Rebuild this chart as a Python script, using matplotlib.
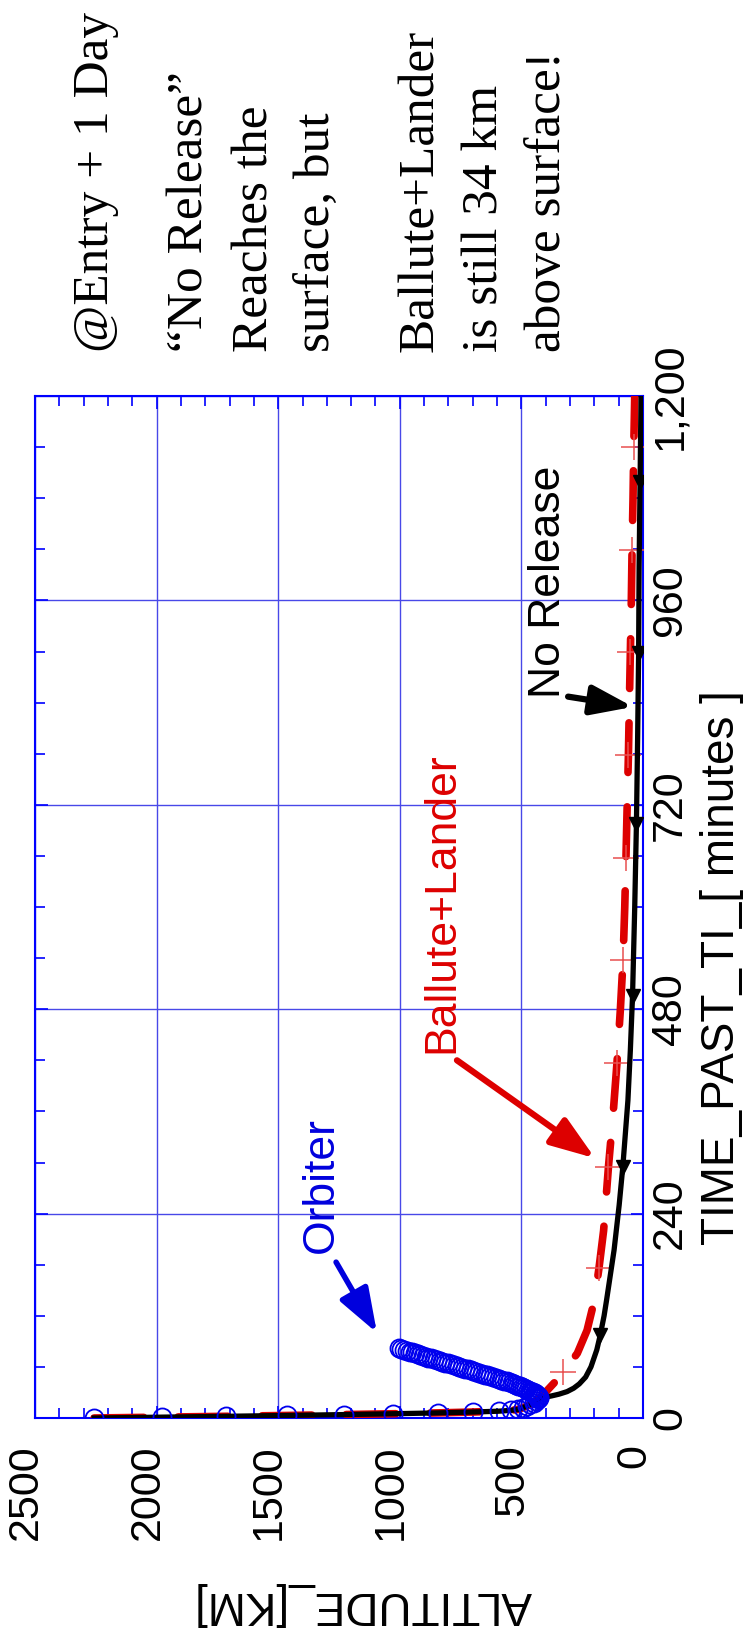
import matplotlib
matplotlib.use('Agg')
import matplotlib.pyplot as plt
from matplotlib.ticker import MultipleLocator
from matplotlib.transforms import ScaledTranslation

plt.rcParams['font.family'] = ['Liberation Sans', 'DejaVu Sans']

W, H = 748, 1650

# entry leg, all three bodies fly together until the release point
entry_time = [0, 1, 2, 3, 4, 5, 6, 7, 8, 9, 10, 12, 14, 16, 18, 20, 22]
entry_alt = [2257, 1978, 1713, 1463, 1231, 1026, 843, 700, 593, 543, 514,
             495, 478, 463, 450, 440, 432]

# orbiter climbs back out after the pass (one sample per minute)
orbiter_time = [23, 24, 25, 26, 27, 28, 29, 30, 31, 32, 33, 34, 35, 36, 37,
                38, 39, 40, 41, 42, 43, 44, 45, 46, 47, 48, 49, 50, 51, 52,
                53, 54, 55, 56, 57, 58, 59, 60, 61, 62, 63, 64, 65, 66, 67,
                68, 69, 70, 71, 72, 73, 74, 75, 76, 77, 78, 79, 80, 81, 82]
orbiter_alt = [430, 428, 429, 432, 436, 440, 446, 452, 459, 466, 474, 482,
               490, 498, 506, 515, 522, 530, 540, 550, 560, 571, 582, 594,
               605, 617, 628, 640, 651, 663, 674, 686, 697, 709, 720, 732,
               743, 755, 766, 778, 790, 802, 813, 825, 836, 848, 859, 871,
               882, 894, 905, 916, 927, 938, 949, 960, 971, 983, 994, 1005]

# ballute + lander after release
lander_time = [29, 41, 54, 76, 103, 138, 176, 220, 295, 360, 417, 480, 538,
               600, 658, 720, 778, 840, 899, 960, 1019, 1080, 1140, 1200]
lander_alt = [405, 366, 327, 270, 230, 200, 181, 162, 142, 122, 107, 93, 82,
              75, 70, 65, 60, 56, 52, 48, 45, 41, 38, 34]
lander_mark_time = [54, 176, 295, 417, 538, 658, 778, 899, 1019, 1140]

# no release case
norel_time = [24, 26, 28, 31, 35, 40, 48, 60, 80, 97, 120, 138, 197, 250,
              295, 373, 432, 496, 600, 698, 800, 898, 1000, 1099, 1200]
norel_alt = [410, 375, 345, 312, 285, 262, 236, 214, 190, 176, 160, 150, 119,
             98, 83, 62, 52, 43, 34, 27, 22, 18, 16, 12, 8]
norel_mark_time = [97, 295, 496, 698, 898, 1099]

alt_ticks = [0, 500, 1000, 1500, 2000, 2500]
alt_tick_labels = ['0', '500', '1000', '1500', '2000', '2500']
time_ticks = [0, 240, 480, 720, 960, 1200]
time_tick_labels = ['0', '240', '480', '720', '960', '1,200']

note_lines = ['@Entry + 1 Day', '\u201cNo Release\u201d', 'Reaches the',
              'surface, but', 'Ballute+Lander', 'is still 34 km',
              'above surface!']

blue = '#0000ff'
red = '#dd0000'


def fx(px):
    return px / W


def fy(py):
    return 1 - py / H


fig = plt.figure(figsize=(W / 100, H / 100), dpi=100)
ax = fig.add_axes([fx(35), fy(1418), (643 - 35) / W, (1418 - 396) / H])

# chart is drawn turned on its side: altitude runs right->left, time upward
lt = entry_time + lander_time
la = entry_alt + lander_alt
ax.plot(la, lt, color=red, lw=5.5, dashes=(6.5, 4.5), dash_capstyle='round',
        marker='+', markevery=[lt.index(t) for t in lander_mark_time],
        ms=19, mew=1.1, mec='#e85050', zorder=3)

nt = entry_time + norel_time
na = entry_alt + norel_alt
ax.plot(na, nt, color='black', lw=3.8, marker='v',
        markevery=[nt.index(t) for t in norel_mark_time], ms=10, zorder=4)

ax.plot(entry_alt + orbiter_alt, entry_time + orbiter_time, ls='none',
        marker='o', mfc='none', mec='#0000ee', ms=13, mew=1.3, zorder=5)

ax.set_xlim(2500, 0)
ax.set_ylim(0, 1200)
ax.set_xticks(alt_ticks)
ax.set_xticklabels(alt_tick_labels)
ax.set_yticks(time_ticks)
ax.set_yticklabels(time_tick_labels, va='center')
ax.xaxis.set_minor_locator(MultipleLocator(100))
ax.yaxis.set_minor_locator(MultipleLocator(60))
ax.grid(which='major', color='#4848e8', lw=1.0)
for s in ax.spines.values():
    s.set_color(blue)
    s.set_linewidth(1.5)
ax.tick_params(which='both', direction='in', color=blue, top=True,
               bottom=True, left=True, right=True, labelcolor='black')
ax.tick_params(which='major', length=9, width=1.2)
ax.tick_params(which='minor', length=7, width=1.2)
ax.tick_params(axis='x', labelsize=31, labelrotation=90, pad=19)
ax.tick_params(axis='y', labelsize=31, labelrotation=90, pad=5,
               labelleft=False, labelright=True)
for lab in ax.get_xticklabels():
    lab.set_transform(lab.get_transform() +
                      ScaledTranslation(-0.09, 0, fig.dpi_scale_trans))

fig.text(fx(734), fy(968), 'TIME_PAST_TI_[ minutes ]', rotation=90,
         rotation_mode='anchor', ha='center', va='baseline', size=33)
fig.text(fx(363), fy(1592), 'ALTITUDE_[KM]', rotation=180,
         rotation_mode='anchor', ha='center', va='baseline', size=33)

# curve call-outs
arrow_style = '-|>,head_length=0.9,head_width=0.32'
ax.text(1275, 194, 'Orbiter', rotation=90, rotation_mode='anchor',
        ha='left', va='baseline', color='#0000dd', size=32)
ax.annotate('', xy=(1094, 100), xytext=(1262, 183),
            arrowprops=dict(arrowstyle=arrow_style, color='#0000dd', lw=4,
                            mutation_scale=30, shrinkA=0, shrinkB=0))
ax.text(781, 428, 'Ballute+Lander', rotation=90, rotation_mode='anchor',
        ha='left', va='baseline', color=red, size=32)
ax.annotate('', xy=(197, 305), xytext=(765, 420),
            arrowprops=dict(arrowstyle=arrow_style, color=red, lw=4.5,
                            mutation_scale=30, shrinkA=0, shrinkB=0))
ax.text(341, 845, 'No Release', rotation=90, rotation_mode='anchor',
        ha='left', va='baseline', color='black', size=32)
ax.annotate('', xy=(41, 835), xytext=(308, 847),
            arrowprops=dict(arrowstyle=arrow_style, color='black', lw=4.5,
                            mutation_scale=28, shrinkA=0, shrinkB=0))

# slide note at the top
note_x = [108, 203, 267, 330, 433, 497, 560]
for xp, line in zip(note_x, note_lines):
    fig.text(fx(xp), fy(352), line, rotation=90, rotation_mode='anchor',
             ha='left', va='baseline', size=37,
             family=['Liberation Serif', 'DejaVu Serif'])

fig.savefig('out.png', dpi=100)
